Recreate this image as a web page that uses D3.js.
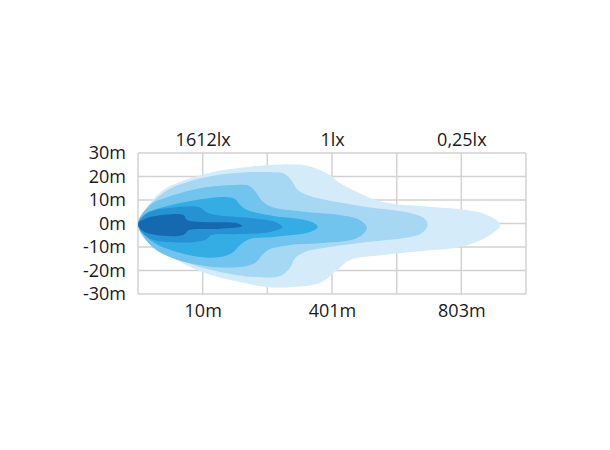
<!DOCTYPE html>
<html><head><meta charset="utf-8">
<script src="https://cdn.jsdelivr.net/npm/d3@7/dist/d3.min.js"></script>
<style>
html,body{margin:0;padding:0;background:#fff;}
text{font-family:"Open Sans",sans-serif;font-size:18px;fill:#1a1a1a;}
</style></head>
<body><svg id="c" width="610" height="450"></svg>
<script>
// Tick labels
const distanceTicks = [1, 3, 5];
const distanceLabels = ["10m", "401m", "803m"];
const luxLabels = ["1612lx", "1lx", "0,25lx"];
const widthTicks = [30, 20, 10, 0, -10, -20, -30];

// Isolux contours: [distance (grid columns), lateral width (m)]
const contourLightest = [[0,-0.2],[0.14,7.0],[0.39,14.3],[0.65,17.7],[1.16,21.9],[1.69,24.0],[2.04,24.9],[2.55,24.9],[2.81,22.8],[2.97,20.6],[3.12,17.2],[3.39,13.4],[3.79,9.1],[4.56,7.0],[5.09,5.7],[5.40,3.6],[5.60,-0.6],[5.40,-5.7],[4.98,-10.0],[4.56,-11.3],[3.79,-13.4],[3.28,-15.5],[3.08,-19.8],[2.81,-25.3],[2.40,-27.0],[1.99,-27.0],[1.50,-24.5],[0.99,-20.6],[0.46,-13.4],[0.11,-6.6]];
const contourLight = [[0,-0.2],[0.11,5.7],[0.46,14.3],[0.99,19.4],[1.50,21.5],[2.01,21.9],[2.27,21.1],[2.38,18.1],[2.47,14.3],[2.66,11.7],[3.08,9.1],[3.54,7.0],[4.21,4.5],[4.42,2.3],[4.48,-0.6],[4.39,-4.0],[4.21,-5.7],[3.54,-7.9],[2.97,-10.0],[2.58,-12.1],[2.43,-14.7],[2.35,-18.9],[2.20,-22.3],[1.81,-22.8],[1.27,-20.6],[0.73,-16.4],[0.26,-9.6]];
const contourMedium = [[0,-0.2],[0.19,7.9],[0.46,11.3],[0.99,15.1],[1.50,16.4],[1.73,15.9],[1.82,13.4],[1.92,9.6],[2.07,7.0],[2.61,4.9],[3.12,3.6],[3.43,1.5],[3.54,-1.9],[3.39,-6.2],[2.86,-8.3],[2.35,-9.1],[2.04,-10.9],[1.92,-13.4],[1.81,-16.8],[1.58,-18.5],[1.04,-18.1],[0.49,-14.3],[0.19,-9.1]];
const contourStrong = [[0,-0.2],[0.19,4.9],[0.46,7.4],[0.99,10.4],[1.35,11.3],[1.50,10.4],[1.58,7.9],[1.69,5.7],[2.09,3.2],[2.50,1.9],[2.72,0.2],[2.78,-1.5],[2.66,-3.6],[2.09,-5.7],[1.73,-6.6],[1.58,-9.1],[1.45,-12.6],[1.27,-14.3],[0.96,-14.3],[0.46,-10.9],[0.19,-7.0]];
const contourDeep = [[0,-0.2],[0.14,4.5],[0.48,6.6],[0.94,7.0],[1.05,4.9],[1.21,3.6],[1.73,2.3],[2.12,0.6],[2.23,-1.5],[2.04,-3.6],[1.58,-4.5],[1.14,-4.9],[1.04,-7.0],[0.48,-7.9],[0.14,-5.7]];
const contourDarkest = [[0,-0.2],[0.14,2.3],[0.28,3.2],[0.70,3.6],[0.76,1.5],[1.01,0.6],[1.52,0.2],[1.61,-1.1],[1.25,-2.3],[0.79,-2.8],[0.70,-4.9],[0.28,-4.9],[0.08,-3.2]];

const contours = [contourLightest, contourLight, contourMedium, contourStrong, contourDeep, contourDarkest];
const colors = ["#d4ecf9", "#a6d8f3", "#70c4ee", "#34ade4", "#2492d3", "#1569ae"];

const svg = d3.select("#c");
const L = 138, R = 526, T = 153, B = 294;
const x = d3.scaleLinear().domain([0, 6]).range([L, R]);
const y = d3.scaleLinear().domain([-30, 30]).range([B, T]);

// grid
const g = svg.append("g");
g.selectAll(".vg").data(d3.range(0, 7)).enter().append("line")
  .attr("x1", d => x(d)).attr("x2", d => x(d)).attr("y1", T).attr("y2", B)
  .attr("stroke", "#d2d2d2").attr("stroke-width", 1.5);
g.selectAll(".hg").data(widthTicks).enter().append("line")
  .attr("x1", L).attr("x2", R).attr("y1", d => y(d)).attr("y2", d => y(d))
  .attr("stroke", "#d2d2d2").attr("stroke-width", 1.5);

// contours
const line = d3.line().x(d => x(d[0])).y(d => y(d[1])).curve(d3.curveCatmullRomClosed.alpha(0.5));
svg.append("g").selectAll("path").data(contours).enter().append("path")
  .attr("d", d => line(d)).attr("fill", (d, i) => colors[i]).attr("stroke", "none");

// axes
const yAxis = d3.axisLeft(y).tickValues(widthTicks).tickFormat(d => d + "m").tickSize(0).tickPadding(12);
const ya = svg.append("g").attr("transform", `translate(${L},0)`).call(yAxis);
const xAxis = d3.axisBottom(x).tickValues(distanceTicks).tickFormat((d, i) => distanceLabels[i]).tickSize(0).tickPadding(10);
const xa = svg.append("g").attr("transform", `translate(0,${B})`).call(xAxis);
const tAxis = d3.axisTop(x).tickValues(distanceTicks).tickFormat((d, i) => luxLabels[i]).tickSize(0).tickPadding(7);
const ta = svg.append("g").attr("transform", `translate(0,${T})`).call(tAxis);
[ya, xa, ta].forEach(a => {
  a.select(".domain").remove();
  a.selectAll("text").attr("font-family", "Open Sans, sans-serif").attr("font-size", 18).attr("fill", "#1a1a1a");
});
</script></body></html>
